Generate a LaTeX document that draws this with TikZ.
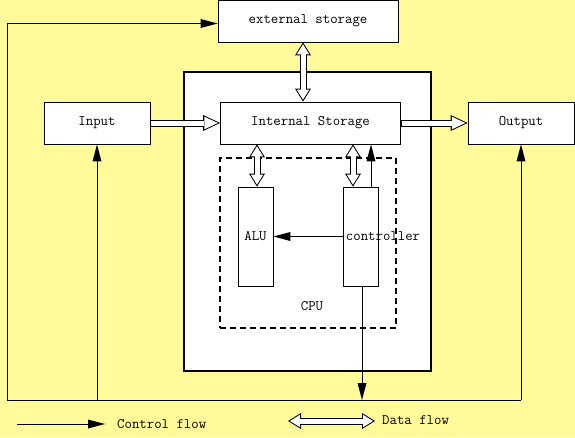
\documentclass[tikz,border=0pt]{standalone}
\usepackage{fontspec}
\usetikzlibrary{arrows.meta}
\definecolor{paper}{RGB}{255,251,155}

\begin{document}
\begin{tikzpicture}[x=1pt,y=-1pt,
  font=\ttfamily\fontsize{14.4}{16}\selectfont,
  box/.style={draw=black,fill=white,line width=0.8pt,inner sep=0pt},
  thinline/.style={draw=black,line width=0.7pt},
  ctrlflow/.style={thinline,-{Triangle[length=17pt,width=9pt,line width=0pt]}},
  data/.style={draw=black,line width=7pt,-{Triangle[length=17pt,width=16pt,line width=0pt]},
    postaction={draw=white,line width=5pt,-{Triangle[length=13.5pt,width=12.6pt,line width=0pt]},
    shorten <=1pt,shorten >=2.2pt}},
  data2/.style={draw=black,line width=7pt,
    {Triangle[length=13pt,width=16pt,line width=0pt]}-{Triangle[length=13pt,width=16pt,line width=0pt]},
    postaction={draw=white,line width=5pt,
    {Triangle[length=10.1pt,width=12.4pt,line width=0pt]}-{Triangle[length=10.1pt,width=12.4pt,line width=0pt]},
    shorten <=1.9pt,shorten >=1.9pt}}]
\fill [paper] (0,0) rectangle (575,437);
\useasboundingbox (0,0) rectangle (575,437);
\node [box,line width=1.6pt,minimum width=247pt,minimum height=299pt] (host) at (307.5,221.5) {};
\node [box,minimum width=180pt,minimum height=42pt] (ext) at (308,21) {external storage};
\node [box,minimum width=180pt,minimum height=42pt] (mem) at (310.5,123) {Internal Storage};
\node [box,minimum width=106pt,minimum height=42pt] (in) at (97,123) {Input};
\node [box,minimum width=106pt,minimum height=42pt] (out) at (521,123) {Output};
\node [draw=black,dash pattern=on 6pt off 4pt,line width=1.2pt,inner sep=0pt,minimum width=176pt,minimum height=170pt] (cpu) at (308,243) {};
\node [inner sep=0pt] (cpulabel) at (312,306) {CPU};
\node [box,minimum width=35pt,minimum height=99pt] (alu) at (255.5,236.5) {ALU};
\node [box,minimum width=35pt,minimum height=99pt] (ctrl) at (360.5,236.5) {};
\draw [ctrlflow] (ctrl.west) -- (alu.east);
\node [inner sep=0pt] (ctrllabel) at (383,236) {controller};
\draw [data2] ([xshift=-5pt]ext.south) -- ([xshift=-5pt]ext.south |- mem.north);
\draw [data2] ([xshift=1.5pt]alu.north |- mem.south) -- ([xshift=1.5pt]alu.north);
\draw [data2] ([xshift=-7.5pt]ctrl.north |- mem.south) -- ([xshift=-7.5pt]ctrl.north);
\draw [ctrlflow] ([xshift=10.5pt]ctrl.north) -- ([xshift=10.5pt]ctrl.north |- mem.south);
\draw [data] (in) -- (mem);
\draw [data] (mem) -- (out);
\coordinate (loopL) at (7,400);
\coordinate (loopR) at (521,400);
\draw [thinline] (loopR) -- (loopL);
\draw [ctrlflow] (loopL) |- ([yshift=-2.5pt]ext.west);
\draw [ctrlflow] (in.south |- loopL) -- (in.south);
\draw [ctrlflow] (loopR) -- (out.south);
\draw [ctrlflow] ([xshift=1.5pt]ctrl.south) -- ([xshift=1.5pt]ctrl.south |- loopL);
\coordinate (keyA) at (17,424);
\coordinate (keyB) at (105,424);
\draw [ctrlflow] (keyA) -- (keyB);
\node [inner sep=0pt,anchor=west] (keyctrl) at (117,424) {Control flow};
\coordinate (keyC) at (288,421);
\coordinate (keyD) at (375,421);
\draw [data2] (keyC) -- (keyD);
\node [inner sep=0pt,anchor=west] (keydata) at (382,420) {Data flow};
\end{tikzpicture}
\end{document}
